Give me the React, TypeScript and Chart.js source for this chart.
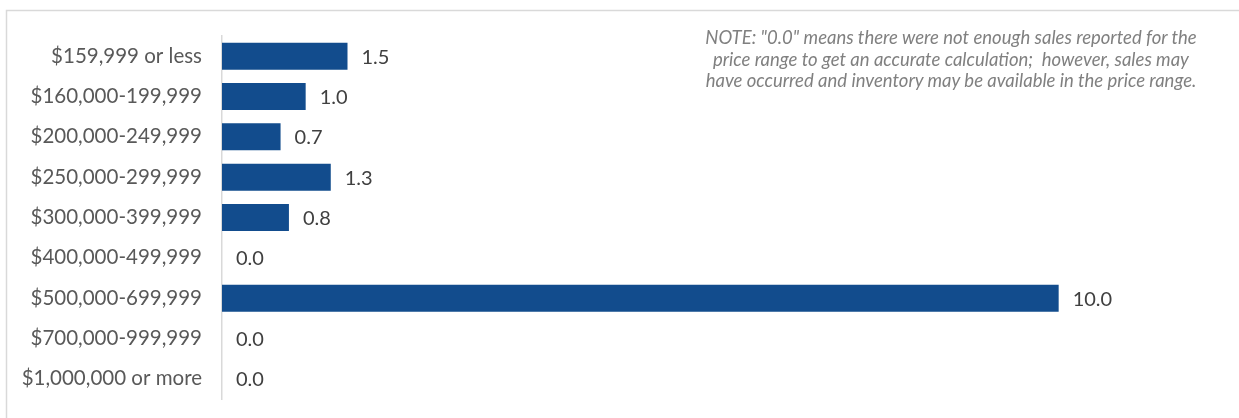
import React, { useEffect, useRef } from "react";
import { Chart, registerables } from "chart.js";

Chart.register(...registerables);

const categories = [
  "$159,999 or less",
  "$160,000-199,999",
  "$200,000-249,999",
  "$250,000-299,999",
  "$300,000-399,999",
  "$400,000-499,999",
  "$500,000-699,999",
  "$700,000-999,999",
  "$1,000,000 or more",
];
const values = [1.5, 1.0, 0.7, 1.3, 0.8, 0.0, 10.0, 0.0, 0.0];
const noteLines = [
  'NOTE: "0.0" means there were not enough sales reported for the',
  "price range to get an accurate calculation;  however, sales may",
  "have occurred and inventory may be available in the price range.",
];

const FONT = "Lato, 'Open Sans', sans-serif";

const frame = {
  id: "frame",
  beforeDraw(chart: any) {
    const ctx = chart.ctx;
    ctx.save();
    ctx.strokeStyle = "#d9d9d9";
    ctx.lineWidth = 1.5;
    ctx.beginPath();
    ctx.moveTo(6.5, 420);
    ctx.lineTo(6.5, 10.5);
    ctx.lineTo(1245, 10.5);
    ctx.stroke();
    ctx.restore();
  },
};

const dataLabels = {
  id: "dataLabels",
  afterDatasetsDraw(chart: any) {
    const ctx = chart.ctx;
    const meta = chart.getDatasetMeta(0);
    const ds = chart.data.datasets[0].data as number[];
    ctx.save();
    ctx.font = `20px ${FONT}`;
    ctx.fillStyle = "#404040";
    ctx.textAlign = "left";
    ctx.textBaseline = "middle";
    meta.data.forEach((bar: any, i: number) => {
      ctx.fillText(ds[i].toFixed(1), bar.x + 14, bar.y + 1);
    });
    ctx.restore();
  },
};

export default function App() {
  const ref = useRef<HTMLCanvasElement>(null);
  useEffect(() => {
    if (!ref.current) return;
    const chart = new Chart(ref.current, {
      type: "bar",
      data: {
        labels: categories,
        datasets: [
          {
            data: values,
            backgroundColor: "#124c8d",
            borderWidth: 0,
            categoryPercentage: 1,
            barPercentage: 0.67,
          },
        ],
      },
      options: {
        indexAxis: "y",
        animation: false,
        responsive: false,
        layout: { padding: { top: 36, bottom: 19, right: 13, left: 0 } },
        plugins: {
          legend: { display: false },
          tooltip: { enabled: false },
        },
        scales: {
          x: { display: false, min: 0, max: 12 },
          y: {
            grid: { display: false, drawTicks: false },
            border: { display: true, color: "#d9d9d9", width: 1.5 },
            ticks: {
              padding: 20,
              color: "#595959",
              font: { family: FONT, size: 20.5 },
            },
            afterFit(scale: any) {
              scale.width = 222;
              scale.paddingTop = 0;
              scale.paddingBottom = 0;
            },
          },
        },
      },
      plugins: [frame, dataLabels],
    });
    return () => chart.destroy();
  }, []);
  return (
    <div style={{ position: "absolute", left: 0, top: 0, width: 1239, height: 418, background: "#fff" }}>
      <canvas ref={ref} width={1239} height={418} style={{ display: "block" }} />
      <div
        style={{
          position: "absolute",
          left: 651,
          width: 600,
          top: 27,
          textAlign: "center",
          fontFamily: FONT,
          fontStyle: "italic",
          fontSize: 18.5,
          lineHeight: "21.5px",
          color: "#808080",
        }}
      >
        {noteLines.map((l, i) => (
          <div key={i} style={{ whiteSpace: "pre" }}>{l}</div>
        ))}
      </div>
    </div>
  );
}
